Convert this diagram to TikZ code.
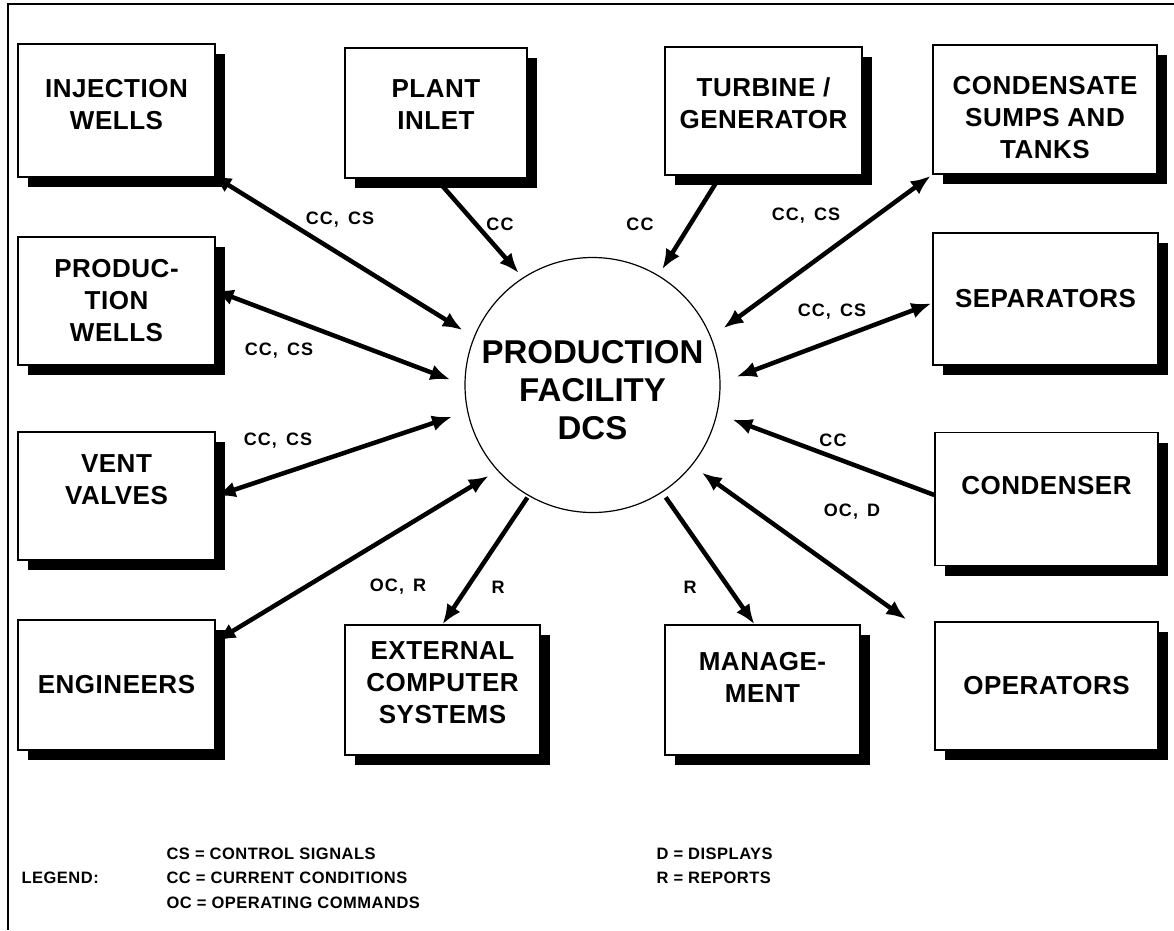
\documentclass[tikz,border=0pt]{standalone}
\usepackage{fontspec}
\setmainfont{Liberation Sans}
\usetikzlibrary{arrows.meta,positioning,shadows,backgrounds}

\tikzset{
  unit/.style={draw, line width=1.3pt, fill=white, align=center,
    font=\fontsize{26}{32}\selectfont\bfseries\addfontfeature{LetterSpace=2},
    drop shadow={shadow xshift=10pt, shadow yshift=-10pt, fill=black, opacity=1}},
  textup/.style={text depth=#1},
  hub/.style={draw, circle, line width=1.2pt, fill=white, inner sep=0pt,
    minimum size=255pt, align=center, font=\fontsize{33}{38}\selectfont\bfseries},
  link/.style={line width=4.5pt, -{Latex[length=20pt,width=16pt]}},
  both/.style={line width=4.5pt, {Latex[length=20pt,width=16pt]}-{Latex[length=20pt,width=16pt]}},
  tag/.style={font=\fontsize{18}{21}\selectfont\bfseries\addfontfeature{LetterSpace=6}},
  key/.style={font=\fontsize{16.5}{19}\selectfont\bfseries\addfontfeature{LetterSpace=3}, anchor=west},
}

\begin{document}
\begin{tikzpicture}[x=1pt, y=-1pt]
\useasboundingbox (0,0) rectangle (1174,930);
% frame
\draw[line width=1.3pt] (8,930) -- (8,4) -- (1174,4);

% central system
\node[hub] (hub) at (592.5,385) {\rule{0pt}{34pt}PRODUCTION\\FACILITY\\DCS};

% left column
\node[unit, textup=12pt, minimum width=197pt, minimum height=133pt] (inj) at (116.5,110.5) {INJECTION\\WELLS};
\node[unit, minimum width=197pt, minimum height=128pt] (prod) at (116.5,301) {PRODUC-\\TION\\WELLS};
\node[unit, textup=32pt, minimum width=197pt, minimum height=128pt] (vent) at (116.5,496) {VENT\\VALVES};
\node[unit, minimum width=197pt, minimum height=130pt] (eng) at (116.5,685) {ENGINEERS};

% top row
\node[unit, textup=16pt, minimum width=182pt, minimum height=130pt] (plant) at (436,113) {PLANT\\INLET};
\node[unit, textup=16pt, minimum width=197pt, minimum height=128pt] (turb) at (763.5,111) {TURBINE /\\GENERATOR};

% right column
\node[unit, minimum width=224pt, minimum height=129pt] (sumps) at (1045,109.5) {\rule{0pt}{34pt}CONDENSATE\\SUMPS AND\\TANKS};
\node[unit, minimum width=225pt, minimum height=132pt] (sep) at (1045.5,299) {SEPARATORS};
\node[unit, textup=28pt, minimum width=223pt, minimum height=133pt] (cond) at (1046.5,499) {CONDENSER};
\node[unit, minimum width=223pt, minimum height=128pt] (oper) at (1046.5,686) {OPERATORS};

% bottom row
\node[unit, textup=14pt, minimum width=195pt, minimum height=130pt] (ext) at (442.5,690) {EXTERNAL\\COMPUTER\\SYSTEMS};
\node[unit, textup=26pt, minimum width=195pt, minimum height=130pt] (mgmt) at (762.5,690) {MANAGE-\\MENT};

% signal paths
\begin{scope}[on background layer]
\draw[both, shorten >=13pt] ([xshift=-4pt,yshift=3pt]inj.south east) -- (hub.158);
\draw[both, shorten >=15pt] ([xshift=-2pt,yshift=11pt]prod.east) -- (hub.180);
\draw[both, shorten >=16pt] (vent.east) -- (hub.192);
\draw[both, shorten >=10pt] ([yshift=-22pt]eng.north east) -- (hub.222);
\draw[link, shorten >=6pt] (plant.south) -- (hub.123);
\draw[link, shorten >=7pt] ([xshift=-43pt]turb.south) -- (hub.59);
\draw[both, shorten <=15pt, shorten >=2pt] (hub.22) -- (sumps.south west);
\draw[both, shorten <=17pt, shorten >=1pt] (hub.1) -- ([yshift=-4pt]sep.west);
\draw[link, shorten >=16pt] ([yshift=4pt]cond.west) -- (hub.347);
\draw[both, shorten <=12pt] (hub.321.5) -- ([xshift=-28pt,yshift=2pt]oper.north west);
\draw[link, shorten <=6pt] (hub.303) -- ([xshift=-8pt]mgmt.north);
\draw[link, shorten <=2pt] (hub.240) -- (ext.north);
\end{scope}

% path labels
\node[tag] (tInj) at (340,220) {CC,\, CS};
\node[tag] (tPlant) at (500,224) {CC};
\node[tag] (tTurb) at (640,224) {CC};
\node[tag] (tSumps) at (806,216) {CC,\, CS};
\node[tag] (tSep) at (832,312) {CC,\, CS};
\node[tag] (tProd) at (279,351) {CC,\, CS};
\node[tag] (tVent) at (278,441) {CC,\, CS};
\node[tag] (tCond) at (833,440) {CC};
\node[tag] (tOper) at (852,512) {OC,\, D};
\node[tag] (tEng) at (398,587) {OC,\, R};
\node[tag] (tExt) at (498,587) {R};
\node[tag] (tMgmt) at (690,587) {R};

% legend
\node[key] (lgd) at (18,878) {LEGEND:};
\node[key] (kCS) at (163,854) {CS = CONTROL SIGNALS};
\node[key] (kCC) at (163,878) {CC = CURRENT CONDITIONS};
\node[key] (kOC) at (163,903) {OC = OPERATING COMMANDS};
\node[key] (kD) at (653,854) {D = DISPLAYS};
\node[key] (kR) at (653,878) {R = REPORTS};
\end{tikzpicture}
\end{document}
